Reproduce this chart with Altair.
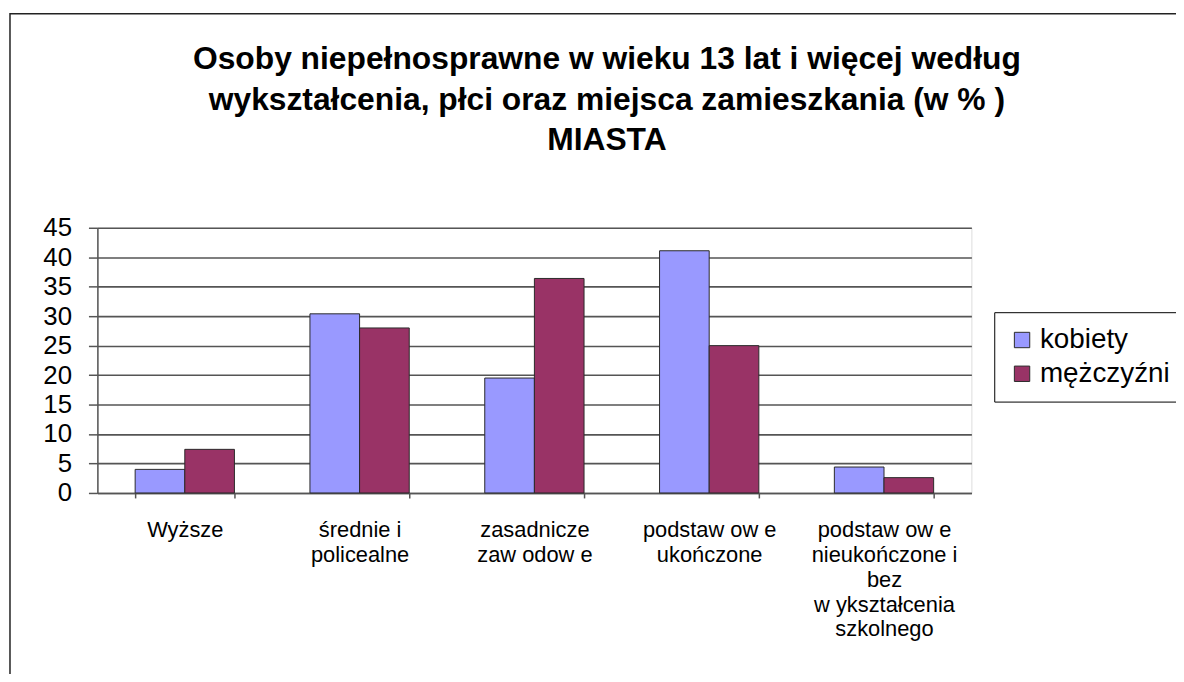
import altair as alt
import pandas as pd

categories = [
    "Wyższe",
    "średnie i|policealne",
    "zasadnicze|zaw odow e",
    "podstaw ow e|ukończone",
    "podstaw ow e|nieukończone i|bez|w ykształcenia|szkolnego",
]
series = ["kobiety", "mężczyźni"]
kobiety = [4.0, 30.4, 19.5, 41.1, 4.4]
mezczyzni = [7.4, 28.0, 36.4, 25.0, 2.6]
y_ticks = [0, 5, 10, 15, 20, 25, 30, 35, 40, 45]
title_lines = [
    "Osoby niepełnosprawne w wieku 13 lat i więcej według",
    "wykształcenia, płci oraz miejsca zamieszkania (w % )",
    "MIASTA",
]
colors = ["#9999FF", "#993366"]

rows = []
for c, k, m in zip(categories, kobiety, mezczyzni):
    rows.append({"kat": c, "plec": series[0], "val": k})
    rows.append({"kat": c, "plec": series[1], "val": m})
df = pd.DataFrame(rows)

FONT = "Liberation Sans"

bars = alt.Chart(df).mark_bar(stroke="#2a2a2a", strokeWidth=1).encode(
    x=alt.X(
        "kat:N",
        sort=categories,
        scale=alt.Scale(paddingInner=0.432, paddingOuter=0.216),
        axis=alt.Axis(
            title=None,
            labelAngle=0,
            labelExpr="split(datum.label, '|')",
            labelFont=FONT,
            labelFontSize=22,
            labelColor="#000000",
            labelLineHeight=25,
            labelPadding=22,
            labelLimit=300,
            tickBand="extent",
            tickSize=5,
            tickColor="#555555",
            tickWidth=1.5,
            domainColor="#555555",
            domainWidth=1.5,
            grid=False,
        ),
    ),
    xOffset=alt.XOffset("plec:N", sort=series, scale=alt.Scale(paddingInner=0, paddingOuter=0)),
    y=alt.Y(
        "val:Q",
        scale=alt.Scale(domain=[0, 45], nice=False),
        axis=alt.Axis(
            title=None,
            values=y_ticks,
            labelFont=FONT,
            labelFontSize=26,
            labelColor="#000000",
            labelPadding=17,
            tickSize=9,
            tickColor="#555555",
            tickWidth=1.5,
            domainColor="#555555",
            domainWidth=1.5,
            grid=True,
            gridColor="#555555",
            gridWidth=1.6,
            gridOpacity=1,
        ),
    ),
    color=alt.Color(
        "plec:N",
        sort=series,
        scale=alt.Scale(domain=series, range=colors),
        legend=alt.Legend(
            title=None,
            orient="none",
            legendX=903,
            legendY=85,
            labelFont=FONT,
            labelFontSize=28,
            labelColor="#000000",
            labelLimit=300,
            symbolType="square",
            symbolSize=240,
            symbolStrokeColor="#2a2a2a",
            symbolStrokeWidth=1,
            symbolOpacity=1,
            rowPadding=6,
            labelOffset=4,
            padding=14,
            strokeColor="#000000",
            fillColor="#ffffff",
        ),
    ),
)

border = alt.Chart(alt.Data(values=[{"a": 1}])).mark_rect(
    fill=None, stroke="#222222", strokeWidth=1.5, clip=False
).encode(
    x=alt.value(-88),
    x2=alt.value(1300),
    y=alt.value(-215.5),
    y2=alt.value(700),
)

title = alt.Chart(alt.Data(values=[{"a": 1}])).mark_text(
    font=FONT,
    fontSize=32,
    fontWeight="bold",
    color="#000000",
    align="center",
    baseline="middle",
    lineHeight=41,
).encode(
    text=alt.value(title_lines),
    x=alt.value(513),
    y=alt.value(-170),
)

chart = alt.layer(bars, border, title).properties(
    width=880,
    height=267,
    padding={"left": 90, "top": 219, "right": 206, "bottom": 180},
    autosize=alt.AutoSizeParams(type="none"),
).configure_view(
    fill="#C0C0C0", stroke="#808080", strokeWidth=1.5
).configure(background="#ffffff")

chart.save("out.html", embed_options={"renderer": "svg", "actions": False})
